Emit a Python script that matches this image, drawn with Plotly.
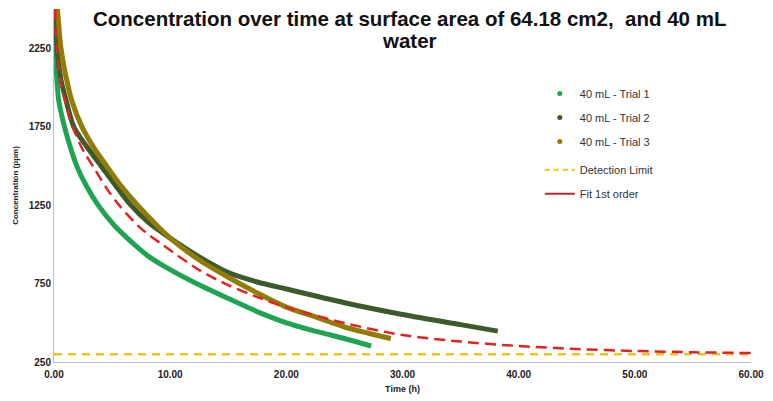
import plotly.graph_objects as go

# Data
t1 = [0.0, 0.1, 0.4, 0.9, 1.4, 2.0, 2.8, 3.8, 5.2, 6.9, 8.2, 9.5, 12, 15, 18, 20, 23, 25, 27.3]
c1 = [2500, 2250, 1920, 1750, 1620, 1492, 1370, 1250, 1120, 1000, 920, 860, 760, 655, 555, 500, 437, 400, 352]

t2 = [0.15, 0.25, 0.6, 1.0, 1.7, 2.8, 4.1, 5.2, 6.5, 8.2, 10, 12.5, 15, 17.5, 20, 25, 30, 35, 38.2]
c2 = [2500, 2250, 2050, 1930, 1750, 1625, 1495, 1385, 1260, 1135, 1040, 920, 820, 760, 715, 628, 553, 488, 447]

t3 = [0.3, 0.6, 1.0, 1.6, 2.4, 3.4, 4.6, 5.8, 7.2, 8.6, 10, 12.5, 15, 17.5, 20, 22.5, 25, 27, 29]
c3 = [2500, 2250, 2080, 1900, 1750, 1620, 1492, 1370, 1250, 1140, 1040, 900, 790, 690, 600, 537, 473, 435, 400]

t_fit = [0.1, 0.25, 0.6, 1.0, 1.6, 2.5, 3.4, 4.5, 5.6, 7.5, 9.3, 12.5, 15, 17.5, 20, 25, 30, 35, 40, 45, 50, 55, 60]
c_fit = [2500, 2250, 2020, 1900, 1750, 1600, 1492, 1360, 1250, 1100, 1000, 836, 740, 664, 600, 498, 422, 380, 352, 333, 320, 312, 307]

t_det = [0, 60]
c_det = [300, 300]

names = ["40 mL - Trial 1", "40 mL - Trial 2", "40 mL - Trial 3"]
colors = ["#1fa552", "#3c5a2a", "#927c06"]

x_ticks = [0, 10, 20, 30, 40, 50, 60]
y_ticks = [250, 750, 1250, 1750, 2250]

title_line1 = "Concentration over time at surface area of 64.18 cm2,  and 40 mL"
title_line2 = "water"

FONT = "Liberation Sans, Arial, sans-serif"

fig = go.Figure()
for t, c, col in zip([t1, t2, t3], [c1, c2, c3], colors):
    fig.add_trace(go.Scatter(x=t, y=c, mode="lines", line=dict(color=col, width=5, shape="spline", smoothing=0.8),
                             showlegend=False, hoverinfo="skip"))
fig.add_trace(go.Scatter(x=t_det, y=c_det, mode="lines", line=dict(color="#f0c21c", width=2.5, dash="8px,6px"),
                         showlegend=False))
fig.add_trace(go.Scatter(x=t_fit, y=c_fit, mode="lines", line=dict(color="#e02424", width=2.5, dash="11px,6px", shape="spline", smoothing=0.8),
                         showlegend=False))

# Legend entries
for i, (n, col) in enumerate(zip(names, colors)):
    fig.add_trace(go.Scatter(x=[None], y=[None], mode="markers", name=n, legendgroup=f"g{i}",
                             marker=dict(color=col, size=5), legend="legend"))
fig.add_trace(go.Scatter(x=[None], y=[None], mode="lines", name="Detection Limit", legendgroup="g3",
                         line=dict(color="#f0c21c", width=2, dash="5px,4px"), legend="legend2"))
fig.add_trace(go.Scatter(x=[None], y=[None], mode="lines", name="Fit 1st order", legendgroup="g4",
                         line=dict(color="#c0282a", width=2), legend="legend2"))

fig.add_annotation(text="<b>" + title_line1 + "</b>", xref="paper", yref="paper",
                   x=0.51, y=0.9745, xanchor="center", yanchor="middle", showarrow=False,
                   font=dict(size=20.5, color="#111", family=FONT))
fig.add_annotation(text="<b>" + title_line2 + "</b>", xref="paper", yref="paper",
                   x=0.51, y=0.912, xanchor="center", yanchor="middle", showarrow=False,
                   font=dict(size=20.5, color="#111", family=FONT))

legend_style = dict(xanchor="left", yanchor="top", bgcolor="rgba(0,0,0,0)",
                    font=dict(size=11, color="#333", family=FONT), tracegroupgap=5, itemwidth=30)

fig.update_layout(
    width=773, height=401,
    margin=dict(l=54, r=15, t=9, b=39),
    paper_bgcolor="white", plot_bgcolor="white",
    font=dict(family=FONT, color="#222"),
    legend=dict(x=0.697, y=0.802, **legend_style),
    legend2=dict(x=0.697, y=0.586, **legend_style),
    xaxis=dict(range=[0, 60], tickvals=x_ticks, ticktext=[f"<b>{v:.2f}</b>" for v in x_ticks],
               showgrid=False, zeroline=False, showline=True, linecolor="#bfbfbf", linewidth=1,
               ticks="outside", ticklen=3, tickcolor="rgba(0,0,0,0)", tickfont=dict(size=10, color="#222"),
               title=dict(text="<b>Time (h)</b>", font=dict(size=9, color="#222"), standoff=6)),
    yaxis=dict(range=[250, 2500], tickvals=y_ticks, ticktext=[f"<b>{v}</b>" for v in y_ticks],
               showgrid=False, zeroline=False, showline=True, linecolor="#bfbfbf", linewidth=1,
               ticks="", tickfont=dict(size=10, color="#222"),
               title=dict(text="<b>Concentration (ppm)</b>", font=dict(size=8, color="#222"), standoff=8)),
)

fig.write_html("out.html")
